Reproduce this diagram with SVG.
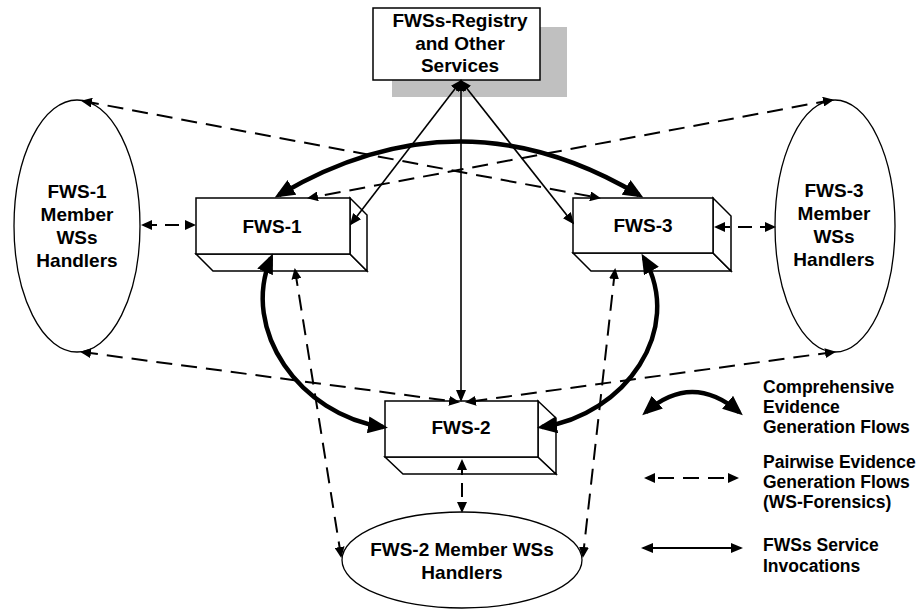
<svg xmlns="http://www.w3.org/2000/svg" width="917" height="609" viewBox="0 0 917 609">
<style>
text{font-family:"Liberation Sans",Arial,sans-serif;font-weight:bold;fill:#000}
.lbl{font-size:19px;text-anchor:middle}
.leg{font-size:17.5px}
.box{fill:#fff;stroke:#000;stroke-width:1.5}
.ell{fill:#fff;stroke:#000;stroke-width:1.3}
.thick{fill:none;stroke:#000;stroke-width:4.5;marker-start:url(#big);marker-end:url(#big)}
.dash{fill:none;stroke:#000;stroke-width:2;stroke-dasharray:16 9;marker-start:url(#sm);marker-end:url(#sm)}
.svc{fill:none;stroke:#000;stroke-width:1.6;marker-start:url(#svc);marker-end:url(#svc)}
</style>
<defs>
<marker id="big" markerUnits="userSpaceOnUse" viewBox="0 0 20 17" refX="15" refY="8.5" markerWidth="20" markerHeight="17" orient="auto-start-reverse"><path d="M0,0 L20,8.5 L0,17 z" fill="#000"/></marker>
<marker id="sm" markerUnits="userSpaceOnUse" viewBox="0 0 11 10" refX="9" refY="5" markerWidth="11" markerHeight="10" orient="auto-start-reverse"><path d="M0,0 L11,5 L0,10 z" fill="#000"/></marker>
<marker id="svc" markerUnits="userSpaceOnUse" viewBox="0 0 12 10" refX="10" refY="5" markerWidth="12" markerHeight="10" orient="auto-start-reverse"><path d="M0,0 L12,5 L0,10 z" fill="#000"/></marker>
</defs>

<g id="registry">
<rect x="392" y="27" width="175" height="70" fill="#c0c0c0"/>
<rect class="box" x="373" y="8" width="167" height="72"/>
<text class="lbl" x="460" y="27" font-size="18.5">FWSs-Registry</text>
<text class="lbl" x="460" y="50">and Other</text>
<text class="lbl" x="460" y="72">Services</text>
</g>

<g id="fws1-handlers">
<ellipse class="ell" cx="77" cy="226" rx="63" ry="126"/>
<text class="lbl" x="77" y="198">FWS-1</text>
<text class="lbl" x="77" y="221">Member</text>
<text class="lbl" x="77" y="244">WSs</text>
<text class="lbl" x="77" y="267">Handlers</text>
</g>

<g id="fws3-handlers">
<ellipse class="ell" cx="835" cy="226" rx="60" ry="126"/>
<text class="lbl" x="834" y="197">FWS-3</text>
<text class="lbl" x="834" y="220">Member</text>
<text class="lbl" x="834" y="243">WSs</text>
<text class="lbl" x="834" y="266">Handlers</text>
</g>

<g id="fws2-handlers">
<ellipse class="ell" cx="462" cy="560" rx="120" ry="48"/>
<text class="lbl" x="462" y="556">FWS-2 Member WSs</text>
<text class="lbl" x="462" y="579">Handlers</text>
</g>

<g id="fws1">
<path class="box" d="M196,254 L350,254 L367,271 L213,271 Z"/>
<path class="box" d="M350,198 L367,215 L367,271 L350,254 Z"/>
<rect class="box" x="196" y="198" width="154" height="56"/>
<text class="lbl" x="272" y="233">FWS-1</text>
</g>

<g id="fws3">
<path class="box" d="M573,253 L713,253 L731,271 L591,271 Z"/>
<path class="box" d="M713,198 L731,216 L731,271 L713,253 Z"/>
<rect class="box" x="573" y="198" width="140" height="55"/>
<text class="lbl" x="643" y="232">FWS-3</text>
</g>

<g id="fws2">
<path class="box" d="M385,457 L538,457 L556,474 L403,474 Z"/>
<path class="box" d="M538,401 L556,418 L556,474 L538,457 Z"/>
<rect class="box" x="385" y="401" width="153" height="56"/>
<text class="lbl" x="461" y="434">FWS-2</text>
</g>

<g id="connectors">
<!-- comprehensive evidence generation flows -->
<path class="thick" d="M279,195 Q460,88 639,195"/>
<path class="thick" d="M271,258 C240,330 300,415 383,427"/>
<path class="thick" d="M644,258 C685,330 625,415 542,427"/>
<!-- pairwise evidence generation flows -->
<path class="dash" d="M143,225 L194,225" style="stroke-dasharray:14 8"/>
<path class="dash" d="M716,227 L774,227" style="stroke-dasharray:14 8"/>
<path class="dash" d="M83,101 L599,198"/>
<path class="dash" d="M832,100 L309,198"/>
<path class="dash" d="M82,352 L458,402"/>
<path class="dash" d="M834,352 L467,402"/>
<path class="dash" d="M295,270 L341,556"/>
<path class="dash" d="M615,270 L583,556"/>
<path class="dash" d="M462,461 L462,511" style="stroke-dasharray:14 8"/>
<!-- service invocations -->
<path class="svc" d="M461,81 L351,224"/>
<path class="svc" d="M461,81 L573,223"/>
<path class="svc" d="M461,81 L461,400"/>
</g>

<g id="legend">
<path class="thick" d="M646,412 Q692,372 739,412"/>
<text class="leg" x="763" y="393">Comprehensive</text>
<text class="leg" x="763" y="413">Evidence</text>
<text class="leg" x="763" y="433">Generation Flows</text>
<path class="dash" d="M646,478 L737,478" style="stroke-dasharray:16 9;stroke-dashoffset:-12"/>
<text class="leg" x="763" y="468">Pairwise Evidence</text>
<text class="leg" x="763" y="488">Generation Flows</text>
<text class="leg" x="763" y="508">(WS-Forensics)</text>
<path class="svc" d="M643,548 L741,548" style="stroke-width:2.2"/>
<text class="leg" x="763" y="551">FWSs Service</text>
<text class="leg" x="763" y="572">Invocations</text>
</g>
</svg>
